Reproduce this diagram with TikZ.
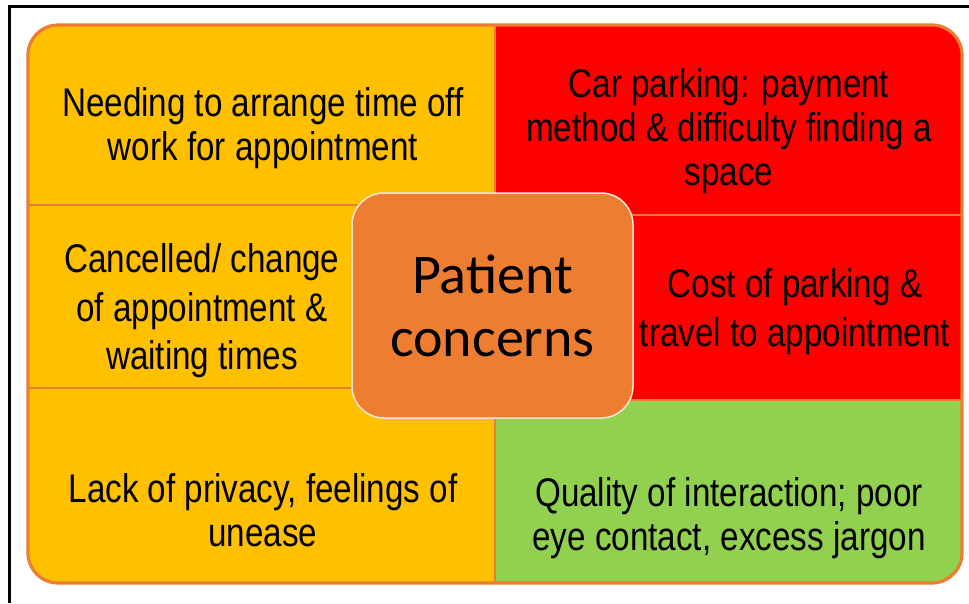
\documentclass[tikz,border=0pt]{standalone}
\usepackage{fontspec}
\setmainfont[FakeStretch=0.83]{Liberation Sans}
\newfontfamily\calib{Carlito}
\definecolor{cyellow}{HTML}{FFC000}
\definecolor{cred}{HTML}{FF0000}
\definecolor{cgreen}{HTML}{92D050}
\definecolor{corange}{HTML}{ED7D31}
\definecolor{cedge}{HTML}{FBE5D6}
\begin{document}
\begin{tikzpicture}[x=1pt,y=-1pt,
  frameline/.style={draw=black,line width=2.5pt},
  divider/.style={draw=corange,line width=2.8pt},
  celltext/.style={align=center,inner sep=0pt,font=\fontsize{40}{44}\selectfont},
  celltextwide/.style={align=center,inner sep=0pt,font=\fontsize{40}{48.5}\selectfont},
  hub/.style={draw=cedge,line width=1.5pt,fill=corange,rounded corners=32pt,
    minimum width=281pt,minimum height=225pt,align=center,inner sep=0pt,
    font=\calib\fontsize{56}{63}\selectfont}]
\useasboundingbox (0,0) rectangle (969,603);
% outer black frame (top and left)
\coordinate (f0) at (9.5,603);
\coordinate (f1) at (9.5,6.5);
\coordinate (f2) at (969,6.5);
\draw[frameline] (f0) -- (f1) -- (f2);
% cells
\begin{scope}
  \clip[rounded corners=30pt] (28,25) rectangle (962,583);
  \fill[cyellow] (28,25) rectangle (495,583);
  \fill[cred] (495,25) rectangle (962,400);
  \fill[cgreen] (495,400) rectangle (962,583);
\end{scope}
\coordinate (d1a) at (28,205);  \coordinate (d1b) at (495,205);
\coordinate (d2a) at (28,388);  \coordinate (d2b) at (495,388);
\coordinate (d3a) at (495,215); \coordinate (d3b) at (962,215);
\coordinate (d4a) at (495,400); \coordinate (d4b) at (962,400);
\coordinate (vt) at (495,25);   \coordinate (vb) at (495,583);
\draw[divider] (d1a) -- (d1b);
\draw[divider] (d2a) -- (d2b);
\draw[divider] (d3a) -- (d3b);
\draw[divider] (d4a) -- (d4b);
\draw[divider] (vt) -- (vb);
\draw[divider,line width=3.2pt,rounded corners=30pt] (28,25) rectangle (962,583);
% texts
\node[celltext] (tl) at (263,128) {Needing to arrange time off\\work for appointment};
\node[celltext] (tr) at (729,131) {Car parking: payment\\method \& difficulty finding a\\space};
\node[celltextwide] (ml) at (202,311) {Cancelled/ change\\of appointment \&\\waiting times};
\node[celltextwide] (mr) at (795,311.5) {Cost of parking \&\\travel to appointment};
\node[celltext] (bl) at (263,510) {Lack of privacy, feelings of\\unease};
\node[celltext] (br) at (729,518) {Quality of interaction; poor\\eye contact, excess jargon};
% centre
\node[hub] (hub) at (492.5,305.5) {Patient\\concerns};
\end{tikzpicture}
\end{document}
